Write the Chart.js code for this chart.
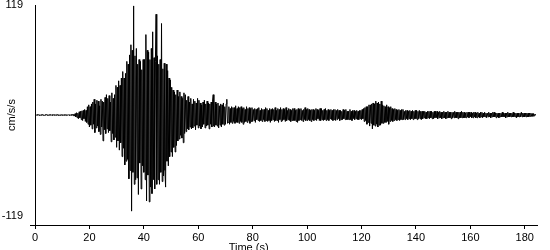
<!DOCTYPE html>
<html>
<head>
<meta charset="utf-8">
<script src="https://cdn.jsdelivr.net/npm/chart.js@4/dist/chart.umd.min.js"></script>
<style>
html,body{margin:0;padding:0;background:#fff;}
#wrap{width:550px;height:250px;}
</style>
</head>
<body>
<div id="wrap"><canvas id="c" width="550" height="250"></canvas></div>
<script>
// sampling interval of the trace (s)
const dt = 0.25;
// acceleration trace (cm/s/s), every 0.25 s (one row = 5 s)
const accel = [
  0, 0.4, -0.4, 0.5, -0.3, 0.4, -0.5, 0.3, -0.4, 0.4, -0.4, 0.5, -0.4, 0.3, -0.5, 0.4, -0.3, 0.5, -0.4, 0.4,
  -0.5, 0.4, -0.4, 0.5, -0.4, 0.4, -0.5, 0.3, -0.4, 0.5, -0.3, 0.4, -0.4, 0.5, -0.5, 0.4, -0.4, 0.3, -0.5, 0.4,
  -0.4, 0.5, -0.4, 0.4, -0.5, 0.3, -0.4, 0.5, -0.4, 0.4, -0.5, 0.4, -0.4, 0.5, -0.4, 0.6, -0.7, 0.9, -1.2, 1.5,
  -2, 2.5, -3, 2, -4, 3.5, -3, 4, -5, 4.5, -6, 5, -4, 6, -7, 5, -8, 9, -10, 11,
  -13, 9, -11, 12, -15, 14, -10, 17, -19, 12, -14, 16, -12, 15, -18, 10, -21, 17, -13, 15,
  -28, 14, -16, 19, -20, 22, -15, 18, -19, 21, -17, 14, -29, 24, -20, 18, -27, 22, -24, 32,
  -35, 30, -28, 37, -38, 32, -30, 40, -45, 47, -36, 40, -54, 45, -50, 58, -48, 55, -69, 65,
  -60, 76, -104, 70, -62, 118, -75, 64, -70, 72, -68, 55, -86, 60, -52, 58, -80, 49, -55, 60,
  -62, 60, -70, 87, -93, 70, -65, 68, -94, 60, -78, 72, -85, 90, -70, 62, -80, 58, 109, -75,
  64, -70, 55, -75, 60, -62, 99, -72, 50, -66, 56, -60, -78, 55, -50, 48, -55, 40, -45, 38,
  -40, 30, -45, 27, -35, 25, -40, 22, -33, 27, -28, 20, -26, 25, -22, 20, -25, 18, -30, 24,
  -20, 22, -18, 16, -15, 20, -16, 14, -13, 18, -15, 12, -14, 17, -12, 15, -16, 13, -11, 18,
  -14, 16, -12, 13, -15, 11, -13, 14, -10, 16, -14, 12, -12, 15, -11, 13, -15, 12, -10, 14,
  -13, 15, 22, -12, -13, 14, -11, 12, -12, 13, -14, 10, -11, 12, -13, 11, -10, 13, -11, 9,
  -10, 12, 17, -9, -8, 9, -10, 7, -8, 9, -9, 8, -7, 8, -9, 10, -8, 7, -8, 9,
  -9, 8, -7, 9, -8, 7, -10, 8, -8, 6, -7, 9, -8, 7, -6, 8, -9, 7, -7, 8,
  -7, 6, -6, 7, -8, 6, -5, 7, -6, 8, -7, 5, -6, 7, -7, 6, -5, 6, -7, 8,
  -6, 7, -7, 5, -6, 7, -8, 6, -6, 7, -5, 6, -7, 8, -6, 5, -6, 7, -8, 6,
  -5, 8, -7, 6, -6, 7, -5, 6, -7, 8, -6, 5, -5, 7, -6, 6, -7, 5, -6, 7,
  -6, 7, -6, 5, -7, 6, -8, 7, -6, 6, -5, 7, -6, 5, -7, 6, -5, 8, -6, 6,
  -6, 7, -5, 6, -6, 5, -7, 6, -5, 6, -6, 5, -5, 7, -6, 6, -4, 5, -6, 7,
  -6, 7, -5, 5, -6, 6, -5, 7, -6, 5, -5, 6, -6, 5, -4, 6, -5, 5, -6, 6,
  -5, 6, -6, 5, -5, 6, -4, 5, -6, 5, -5, 4, -5, 6, -4, 5, -5, 6, -5, 4,
  -5, 4, -5, 6, -5, 4, -6, 5, -4, 5, -5, 4, -4, 5, -5, 4, -5, 5, -4, 5,
  -5, 6, -4, 7, -7, 8, -6, 9, -10, 9, -8, 11, -12, 11, -9, 12, -15, 13, -11, 12,
  -12, 15, -10, 13, -13, 14, -11, 12, -11, 15, -9, 11, -9, 10, -8, 9, -8, 11, -7, 9,
  -10, 8, -7, 9, -6, 7, -7, 6, -6, 7, -5, 6, -6, 5, -5, 6, -6, 5, -5, 6,
  -5, 6, -5, 4, -5, 5, -4, 5, -5, 4, -4, 5, -5, 4, -4, 5, -5, 4, -4, 5,
  -4, 5, -5, 4, -4, 5, -4, 4, -5, 4, -4, 4, -3, 4, -4, 3, -4, 4, -3, 4,
  -4, 4, -3, 4, -4, 3, -4, 4, -3, 4, -3, 4, -4, 3, -3, 4, -3, 3, -4, 3,
  -3, 4, -3, 3, -4, 3, -3, 4, -3, 3, -3, 3, -4, 3, -3, 3, -3, 4, -3, 3,
  -3, 3, -4, 3, -3, 3, -3, 4, -3, 3, -3, 3, -3, 2, -3, 3, -2, 3, -3, 3,
  -2, 3, -3, 2, -3, 3, -2, 3, -3, 2, -3, 3, -2, 2, -3, 3, -2, 3, -3, 2,
  -2, 3, -2, 2, -3, 2, -2, 3, -2, 2, -3, 2, -2, 3, -2, 3, -2, 2, -3, 2,
  -2, 2, -3, 2, -2, 2, -2, 3, -2, 2, -2, 2, -3, 2, -2, 3, -2, 2, -2, 2,
  -2, 2, -2, 3, -2, 2, -2, 2, -3, 2, -2, 2, -2, 2, -2, 3, -2, 2, -2, 2,
  -2, 2, -2, 2, -2, 2, -2, 2, -1.5, 2, -1.5, 1.5, -1.5, 1.5, -1, 1, 0
];
const xTicks = [0, 20, 40, 60, 80, 100, 120, 140, 160, 180];
const yTicks = [-119, 119];
const xMin = 0, xMax = 184.5;
const yMin = -119, yMax = 119;
const xTitle = 'Time (s)';
const yTitle = 'cm/s/s';
const xTitleAt = 78.5; // time value under which the axis title is centred

const points = accel.map((v, i) => ({ x: i * dt, y: v }));
const FONT = "'Liberation Sans', Arial, sans-serif";

const xTitlePlugin = {
  id: 'xTitle',
  afterDraw(chart) {
    const ctx = chart.ctx;
    const xs = chart.scales.x;
    ctx.save();
    ctx.font = '11px ' + FONT;
    ctx.fillStyle = '#000';
    ctx.textAlign = 'center';
    ctx.textBaseline = 'alphabetic';
    ctx.fillText(xTitle, xs.getPixelForValue(xTitleAt), xs.bottom + 1);
    ctx.restore();
  }
};

new Chart(document.getElementById('c'), {
  type: 'line',
  data: {
    datasets: [{
      data: points,
      borderColor: '#000',
      borderWidth: 1,
      pointRadius: 0,
      tension: 0,
      fill: false
    }]
  },
  options: {
    responsive: false,
    devicePixelRatio: 1,
    animation: false,
    layout: { padding: { top: 0, right: 13, left: 0, bottom: 0 } },
    plugins: { legend: { display: false }, tooltip: { enabled: false } },
    scales: {
      x: {
        type: 'linear',
        min: xMin,
        max: xMax,
        afterBuildTicks: s => { s.ticks = xTicks.map(v => ({ value: v })); },
        afterFit: s => { s.height = 25; },
        ticks: { color: '#000', font: { family: FONT, size: 11 }, maxRotation: 0, autoSkip: false, padding: 2 },
        grid: { drawOnChartArea: false, drawTicks: true, tickLength: 4, color: '#000' },
        border: { display: true, color: '#000', width: 1 }
      },
      y: {
        type: 'linear',
        min: yMin,
        max: yMax,
        afterBuildTicks: s => { s.ticks = yTicks.map(v => ({ value: v })); },
        afterFit: s => { s.width = 35; s.paddingTop = 5; },
        ticks: {
          color: '#000',
          font: c => ({ family: FONT, size: 11, lineHeight: (c.tick && c.tick.value < 0) ? '17.6px' : '10px' }),
          padding: 7,
          callback: v => (v < 0 ? [String(v), ''] : String(v))
        },
        grid: {
          drawOnChartArea: false,
          drawTicks: true,
          tickLength: 5,
          color: c => (c.tick && c.tick.value < 0 ? '#000' : 'rgba(0,0,0,0)')
        },
        border: { display: true, color: '#000', width: 1 },
        title: { display: true, text: yTitle, color: '#000', font: { family: FONT, size: 11 }, padding: { top: 5, bottom: 0 } }
      }
    }
  },
  plugins: [xTitlePlugin]
});
</script>
</body>
</html>
